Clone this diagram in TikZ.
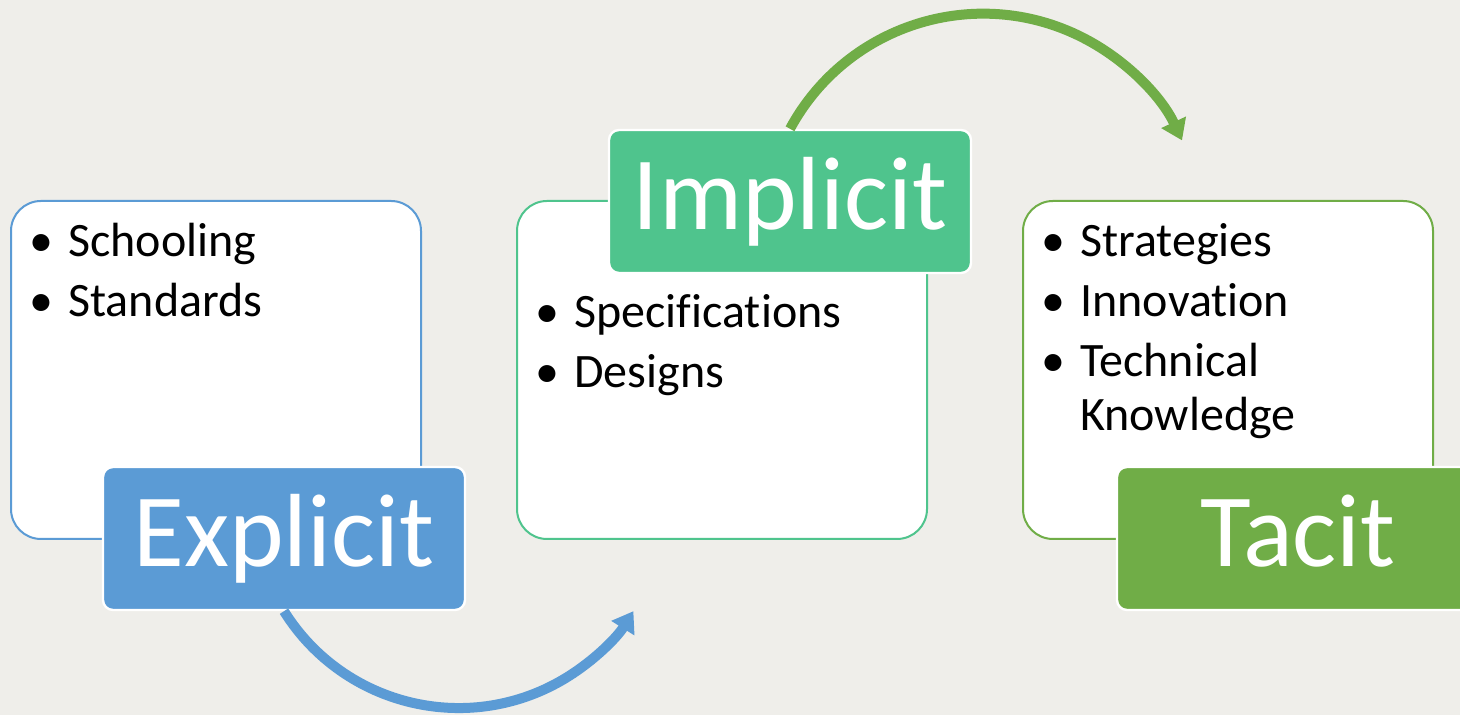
\documentclass[tikz,border=0pt]{standalone}
\usepackage{fontspec}
\setmainfont{Carlito}[Ligatures=NoCommon]
\usetikzlibrary{arrows.meta,positioning}
\definecolor{paper}{HTML}{EFEEEA}
\definecolor{expblue}{HTML}{5B9BD5}
\definecolor{impgreen}{HTML}{4FC48D}
\definecolor{tacgreen}{HTML}{70AD47}

\begin{document}
\begin{tikzpicture}[x=0.5pt, y=0.5pt,
    card/.style={draw, fill=white, line width=1pt, rounded corners=15pt, minimum width=205pt, minimum height=169pt},
    tag/.style={draw=white, line width=1.2pt, rounded corners=5pt, minimum width=181pt, minimum height=71.5pt,
        inner sep=0pt, text=white, font=\fontsize{52}{60}\selectfont, text height=40pt, text depth=11.5pt},
    items/.style={anchor=base west, inner sep=0pt, font=\fontsize{24}{27}\selectfont},
    flow/.style={-{Triangle[length=10pt,width=13pt]}, line width=5pt}
]
    \fill[paper] (0,0) rectangle (1460,715);
    \useasboundingbox (0,0) rectangle (1460,715);

    \node[card, draw=expblue] (expbox) at (216,345) {};
    \node[card, draw=impgreen] (impbox) at (722,345) {};
    \node[card, draw=tacgreen] (tacbox) at (1228,345) {};

    \node[items] (explist) at (29,458) {\begin{tabular}[t]{@{}l@{}l@{}}
        \makebox[19.5pt][l]{\textbullet} & Schooling \\[3pt]
        \makebox[19.5pt][l]{\textbullet} & Standards
    \end{tabular}};
    \node[items] (implist) at (535,387) {\begin{tabular}[t]{@{}l@{}l@{}}
        \makebox[19.5pt][l]{\textbullet} & Specifications \\[3pt]
        \makebox[19.5pt][l]{\textbullet} & Designs
    \end{tabular}};
    \node[items] (taclist) at (1041,458) {\begin{tabular}[t]{@{}l@{}l@{}}
        \makebox[19.5pt][l]{\textbullet} & Strategies \\[3pt]
        \makebox[19.5pt][l]{\textbullet} & Innovation \\[3pt]
        \makebox[19.5pt][l]{\textbullet} & Technical \\
        & Knowledge
    \end{tabular}};

    \node[tag, fill=expblue] (explicit) at (284,176.5) {Explicit};
    \node[tag, fill=impgreen] (implicit) at (790,513.5) {Implicit};
    \node[tag, fill=tacgreen] (tacit) at (1298,176.5) {Tacit};

    % curved arrows between the stages
    \draw[flow, expblue] (explicit.south) arc[start angle=212, end angle=328, radius=206];
    \draw[flow, tacgreen] (implicit.north) arc[start angle=151.6, end angle=25, radius=219.5];
\end{tikzpicture}
\end{document}
